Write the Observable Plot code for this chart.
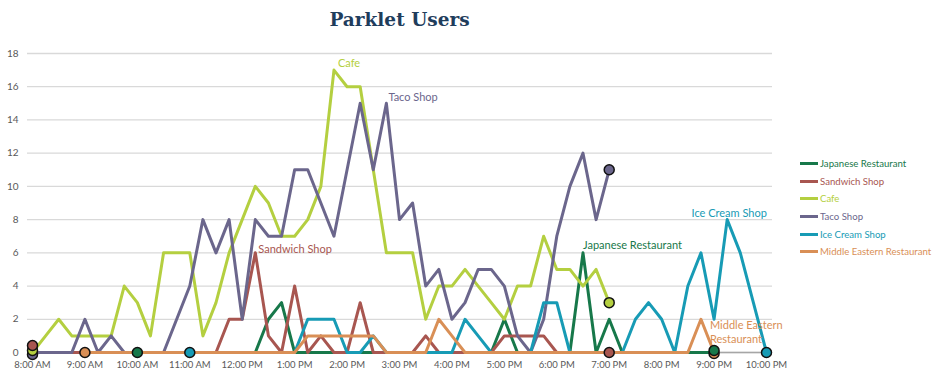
<!DOCTYPE html>
<html><head><meta charset="utf-8">
<script src="https://cdn.jsdelivr.net/npm/d3@7"></script>
<script src="https://cdn.jsdelivr.net/npm/@observablehq/plot@0.6"></script>
<style>
body{margin:0;background:#fff;width:940px;height:383px;overflow:hidden;position:relative;font-family:Lato,sans-serif;}
#title{height:40px;width:745px;margin-left:27px;text-align:center;font-family:"DejaVu Serif",serif;font-weight:bold;font-size:18.5px;color:#1f3d5c;line-height:40px;}
#legend{position:absolute;left:800px;top:155px;font-size:9.6px;}
.item{height:17.6px;display:flex;align-items:center;white-space:nowrap}
.sw{width:18px;height:3px;margin-right:2px}
</style></head><body>
<div id="title">Parklet Users</div>
<div id="chart"></div>
<div id="legend"></div>
<script>
// 15-minute time slots
const times = ["8:00","8:15","8:30","8:45","9:00","9:15","9:30","9:45","10:00","10:15","10:30","10:45","11:00","11:15","11:30","11:45","12:00","12:15","12:30","12:45","13:00","13:15","13:30","13:45","14:00","14:15","14:30","14:45","15:00","15:15","15:30","15:45","16:00","16:15","16:30","16:45","17:00","17:15","17:30","17:45","18:00","18:15","18:30","18:45","19:00","19:15","19:30","19:45","20:00","20:15","20:30","20:45","21:00","21:15","21:30","21:45","22:00"];

const seriesNames = ["Japanese Restaurant","Sandwich Shop","Cafe","Taco Shop","Ice Cream Shop","Middle Eastern Restaurant"];
const seriesColors = ["#17784a","#a85650","#b4cf40","#6b668c","#179bb5","#d98f56"];
const seriesStart = ["10:00","8:00","8:00","8:00","11:00","9:00"];

const japanese = [0,0,0,0,0,0,0,0,0,0,2,3,0,0,0,0,0,0,0,0,0,0,0,0,0,0,0,0,2,0,0,0,0,0,6,0,2,0,0,0,0,0,0,0,0];
const sandwich = [0,0,0,0,0,0,0,0,0,0,0,0,0,0,0,2,2,6,1,0,4,0,1,0,0,3,0,0,0,0,1,0,0,0,0,0,1,1,1,1,0,0,0,0,0];
const cafe = [0,1,2,1,1,1,1,4,3,1,6,6,6,1,3,6,8,10,9,7,7,8,10,17,16,16,11,6,6,6,2,4,4,5,4,3,2,4,4,7,5,5,4,5,3];
const taco = [0,0,0,0,2,0,1,0,0,0,0,2,4,8,6,8,2,8,7,7,11,11,9,7,11,15,11,15,8,9,4,5,2,3,5,5,4,1,0,2,7,10,12,8,11];
const iceCream = [0,0,0,0,0,0,0,0,0,2,2,2,0,0,1,0,0,0,0,0,0,2,1,0,0,0,0,3,3,0,0,0,0,0,2,3,2,0,4,6,2,8,6,3,0];
const middleEastern = [0,0,0,0,0,0,0,0,0,0,0,0,0,0,0,0,0,1,1,1,1,1,1,0,0,0,0,2,1,0,0,0,0,0,0,0,0,0,0,0,0,0,0,0,0,0,0,2,0];
const seriesValues = [japanese, sandwich, cafe, taco, iceCream, middleEastern];

const xTicks = [8,9,10,11,12,13,14,15,16,17,18,19,20,21,22];
const xTickLabels = ["8:00 AM","9:00 AM","10:00 AM","11:00 AM","12:00 PM","1:00 PM","2:00 PM","3:00 PM","4:00 PM","5:00 PM","6:00 PM","7:00 PM","8:00 PM","9:00 PM","10:00 PM"];
const yTicks = [0,2,4,6,8,10,12,14,16,18];

// data labels: series, time slot, text
const labelSeries = ["Cafe","Taco Shop","Sandwich Shop","Japanese Restaurant","Ice Cream Shop","Middle Eastern Restaurant"];
const labelTimes = ["13:45","14:45","12:15","18:30","21:15","20:45"];
const labelTexts = ["Cafe","Taco Shop","Sandwich Shop","Japanese Restaurant","Ice Cream Shop","Middle Eastern\nRestaurant"];

// ---- styles (not data) ----
const labelStyle = {
  "Cafe": {dx: 4, dy: -8, anchor: "start"},
  "Taco Shop": {dx: 2, dy: -7, anchor: "start"},
  "Sandwich Shop": {dx: 3, dy: -5, anchor: "start"},
  "Japanese Restaurant": {dx: 0, dy: -9, anchor: "start"},
  "Ice Cream Shop": {dx: 2, dy: -7, anchor: "middle"},
  "Middle Eastern Restaurant": {dx: 9, dy: 12, anchor: "start"}
};
const startMarkerDy = {"Taco Shop": 2, "Cafe": -2, "Sandwich Shop": -7};
const endMarkerDy = {"Middle Eastern Restaurant": 1, "Japanese Restaurant": -2};

const hour = s => { const [h, m] = s.split(":").map(Number); return h + m / 60; };
const color = Object.fromEntries(seriesNames.map((n, i) => [n, seriesColors[i]]));

const rows = [];
seriesNames.forEach((name, si) => {
  const i0 = times.indexOf(seriesStart[si]);
  seriesValues[si].forEach((v, k) => rows.push({name, t: hour(times[i0 + k]), v}));
});
const firsts = seriesNames.map(n => rows.find(r => r.name === n));
const lasts = seriesNames.map(n => rows.filter(r => r.name === n).at(-1));

const startOrder = ["Japanese Restaurant","Ice Cream Shop","Middle Eastern Restaurant","Taco Shop","Cafe","Sandwich Shop"];
const endOrder = ["Sandwich Shop","Cafe","Taco Shop","Ice Cream Shop","Middle Eastern Restaurant","Japanese Restaurant"];

const marks = [
  Plot.ruleY(yTicks, {stroke: "#d9d9d9", strokeWidth: 1.3}),
  Plot.ruleY([0], {stroke: "#a6a6a6", strokeWidth: 1.3}),
  Plot.axisY({ticks: yTicks, tickSize: 0, tickPadding: 9, fontSize: 10, fill: "#595959", label: null}),
  Plot.axisX({ticks: xTicks, tickSize: 0, tickPadding: 9, fontSize: 9.5, fill: "#595959", label: null,
    tickFormat: d => xTickLabels[xTicks.indexOf(d)]}),
  Plot.line(rows, {x: "t", y: "v", z: "name", stroke: d => color[d.name], strokeWidth: 3})
];
startOrder.forEach(n => {
  const d = firsts.find(r => r.name === n);
  marks.push(Plot.dot([d], {x: "t", y: "v", r: 5, fill: color[n], stroke: "#111", strokeWidth: 1.5, dy: startMarkerDy[n] || 0}));
});
endOrder.forEach(n => {
  const d = lasts.find(r => r.name === n);
  marks.push(Plot.dot([d], {x: "t", y: "v", r: 5, fill: color[n], stroke: "#111", strokeWidth: 1.5, dy: endMarkerDy[n] || 0}));
});
labelSeries.forEach((n, li) => {
  const t = hour(labelTimes[li]);
  const d = rows.find(r => r.name === n && Math.abs(r.t - t) < 1e-9);
  const st = labelStyle[n];
  marks.push(Plot.text([d], {x: "t", y: "v", text: () => labelTexts[li], fill: color[n], fontSize: 11,
    dx: st.dx, dy: st.dy, textAnchor: st.anchor, lineHeight: 1.35}));
});

const chart = Plot.plot({
  width: 940, height: 343,
  marginLeft: 27, marginRight: 168, marginTop: 13, marginBottom: 31,
  insetLeft: 5, insetRight: 6,
  style: {fontFamily: "Lato, sans-serif", background: "#fff"},
  x: {domain: [8, 22], label: null},
  y: {domain: [0, 18], label: null},
  marks
});
document.getElementById("chart").appendChild(chart);

const legend = document.getElementById("legend");
seriesNames.forEach((n, i) => {
  const it = document.createElement("div");
  it.className = "item";
  it.innerHTML = `<span class="sw" style="background:${seriesColors[i]}"></span><span style="color:${seriesColors[i]}">${n}</span>`;
  legend.appendChild(it);
});
</script>
</body></html>
